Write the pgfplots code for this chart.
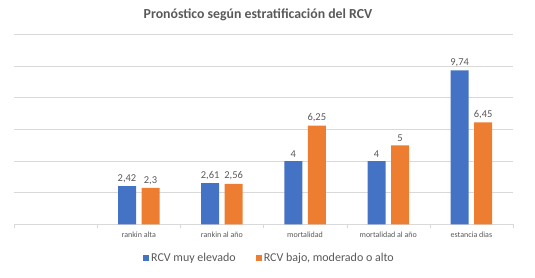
\documentclass[border=0pt]{standalone}
\usepackage{fontspec}
\setmainfont{Carlito}
\usepackage{pgfplots}
\pgfplotsset{compat=1.18}
\definecolor{cblue}{HTML}{4472C4}
\definecolor{corange}{HTML}{ED7D31}
\definecolor{gridc}{HTML}{D9D9D9}
\definecolor{txt}{HTML}{595959}
\begin{document}
\begin{tikzpicture}
\begin{axis}[
  at={(0pt,0pt)}, anchor=south west,
  scale only axis, width=499pt, height=189.7pt,
  ybar=5.5pt, bar width=18pt,
  xmin=-0.5, xmax=5.5, ymin=0, ymax=12,
  xtick={0,1,2,3,4,5},
  xticklabels={,rankin alta,rankin al año,mortalidad,mortalidad al año,estancia dias},
  minor xtick={-0.5,0.5,1.5,2.5,3.5,4.5,5.5},
  major x tick style={draw=none},
  minor x tick style={draw=gridc},
  minor tick length=4pt,
  tick align=outside,
  ytick={0,2,...,12}, yticklabels={},
  major y tick style={draw=none},
  ymajorgrids, grid style={gridc, line width=0.8pt},
  axis x line*=bottom,
  axis y line*=left,
  x axis line style={draw=gridc, line width=0.8pt, -},
  y axis line style={draw=none},
  xticklabel style={font=\fontsize{8}{9}\selectfont, text=txt},
  nodes near coords,
  nodes near coords style={font=\fontsize{10.5}{12}\selectfont, text=txt, /pgf/number format/assume math mode=true, /pgf/number format/use comma, /pgf/number format/precision=2},
  legend style={at={(0.512,-0.13)}, anchor=north, draw=none, font=\fontsize{12}{14}\selectfont, text=txt, legend columns=2, /tikz/every even column/.append style={column sep=18pt}},
  legend image code/.code={\fill[#1] (0pt,-3pt) rectangle (6pt,3pt);},
]
\addplot[fill=cblue, draw=none] coordinates {(1,2.42) (2,2.61) (3,4) (4,4) (5,9.74)};
\addplot[fill=corange, draw=none] coordinates {(1,2.3) (2,2.56) (3,6.25) (4,5) (5,6.45)};
\legend{RCV muy elevado, {RCV bajo, moderado o alto}}
\end{axis}
\path[use as bounding box, draw=none] (-14pt,-52.7pt) rectangle (521pt,224.3pt);
\node[font=\bfseries\fontsize{13.8}{16}\selectfont, text=txt] at (244pt,209.3pt) {Pronóstico según estratificación del RCV};
\end{tikzpicture}
\end{document}
